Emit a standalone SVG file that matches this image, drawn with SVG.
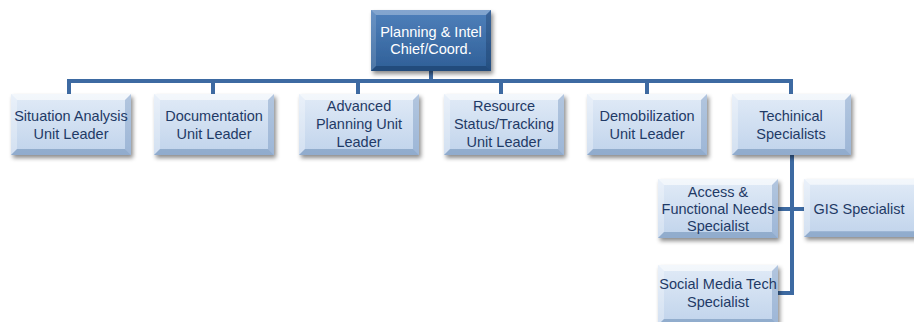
<svg xmlns="http://www.w3.org/2000/svg" xmlns:xlink="http://www.w3.org/1999/xlink" width="914" height="322" viewBox="0 0 914 322">
<defs>
<linearGradient id="gBody" x1="0" y1="0" x2="0" y2="1">
<stop offset="0" stop-color="#e1ebf7"/>
<stop offset="1" stop-color="#c0d3eb"/>
</linearGradient>
<linearGradient id="gDark" x1="0" y1="0" x2="0" y2="1">
<stop offset="0" stop-color="#4f80bb"/>
<stop offset="1" stop-color="#2f5f97"/>
</linearGradient>
<filter id="sh" x="-10%" y="-10%" width="130%" height="140%">
<feDropShadow dx="2" dy="3" stdDeviation="2" flood-color="#000" flood-opacity="0.45"/>
</filter>
<symbol id="bev" viewBox="0 0 120 60" preserveAspectRatio="none">
<rect x="0" y="0" width="120" height="60" fill="url(#gBody)"/>
<polygon points="0,0 120,0 114,6 6,6" fill="#ffffff" opacity="0.6"/>
<polygon points="0,0 6,6 6,54 0,60" fill="#ffffff" opacity="0.3"/>
<polygon points="120,0 120,60 114,54 114,6" fill="#5b80b2" opacity="0.35"/>
<polygon points="0,60 120,60 114,54 6,54" fill="#48709f" opacity="0.4"/>
</symbol>
<symbol id="bevDark" viewBox="0 0 120 60" preserveAspectRatio="none">
<rect x="0" y="0" width="120" height="60" fill="url(#gDark)"/>
<polygon points="0,0 120,0 115,5 5,5" fill="#ffffff" opacity="0.3"/>
<polygon points="0,0 5,5 5,55 0,60" fill="#ffffff" opacity="0.15"/>
<polygon points="120,0 120,60 115,55 115,5" fill="#102c50" opacity="0.3"/>
<polygon points="0,60 120,60 115,55 5,55" fill="#102c50" opacity="0.4"/>
</symbol>
</defs>
<style>
.box { filter: url(#sh); }
text { font-family: "Liberation Sans", Arial, sans-serif; font-size: 14.5px; text-anchor: middle; fill: #1f3a66; }
.top text { fill: #ffffff; }
.conn { stroke: #3d6aa2; stroke-width: 4; fill: none; }
</style>

<g id="connectors">
<path class="conn" d="M431,71 V81"/>
<path class="conn" d="M69,94 V81 H791 V94"/>
<path class="conn" d="M213,81 V94"/>
<path class="conn" d="M358,81 V94"/>
<path class="conn" d="M501,81 V94"/>
<path class="conn" d="M647,81 V94"/>
<path class="conn" d="M792,155 V293 H778"/>
<path class="conn" d="M778,209 H804"/>
</g>

<g id="planning-chief" class="top">
<use xlink:href="#bevDark" class="box" x="371" y="10" width="120" height="61"/>
<text x="431" y="37">Planning &amp; Intel</text>
<text x="431" y="54">Chief/Coord.</text>
</g>

<g id="situation-analysis">
<use xlink:href="#bev" class="box" x="11" y="94" width="120" height="61"/>
<text x="71" y="121">Situation Analysis</text>
<text x="71" y="139">Unit Leader</text>
</g>

<g id="documentation">
<use xlink:href="#bev" class="box" x="154" y="94" width="120" height="61"/>
<text x="214" y="121">Documentation</text>
<text x="214" y="139">Unit Leader</text>
</g>

<g id="advanced-planning">
<use xlink:href="#bev" class="box" x="299" y="94" width="120" height="61"/>
<text x="359" y="111">Advanced</text>
<text x="359" y="129">Planning Unit</text>
<text x="359" y="147">Leader</text>
</g>

<g id="resource-status">
<use xlink:href="#bev" class="box" x="444" y="94" width="120" height="61"/>
<text x="504" y="111">Resource</text>
<text x="504" y="129">Status/Tracking</text>
<text x="504" y="147">Unit Leader</text>
</g>

<g id="demobilization">
<use xlink:href="#bev" class="box" x="587" y="94" width="120" height="61"/>
<text x="647" y="121">Demobilization</text>
<text x="647" y="139">Unit Leader</text>
</g>

<g id="technical-specialists">
<use xlink:href="#bev" class="box" x="732" y="94" width="119" height="61"/>
<text x="791" y="121">Techinical</text>
<text x="791" y="139">Specialists</text>
</g>

<g id="access-functional">
<use xlink:href="#bev" class="box" x="658" y="179" width="120" height="59"/>
<text x="718" y="197">Access &amp;</text>
<text x="718" y="214">Functional Needs</text>
<text x="718" y="231">Specialist</text>
</g>

<g id="gis-specialist">
<use xlink:href="#bev" class="box" x="804" y="179" width="120" height="58"/>
<text x="859" y="214">GIS Specialist</text>
</g>

<g id="social-media">
<use xlink:href="#bev" class="box" x="658" y="265" width="120" height="60"/>
<text x="718" y="289">Social Media Tech</text>
<text x="718" y="307">Specialist</text>
</g>
</svg>
